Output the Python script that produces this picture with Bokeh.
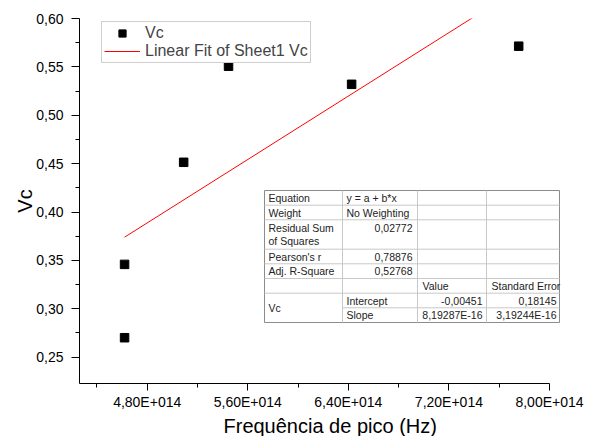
from bokeh.plotting import figure
from bokeh.models import (Range1d, FixedTicker, CustomJSTickFormatter, Legend,
                          LegendItem, Title)
from bokeh.embed import file_html
from bokeh.resources import INLINE
from bokeh.core.properties import value

# ---------------- data ----------------
freq = [4.62e14, 4.62e14, 5.09e14, 5.447e14, 6.426e14, 7.755e14]
vc = [0.3459, 0.2701, 0.4514, 0.5507, 0.5320, 0.5714]
fit_intercept = -0.00451
fit_slope = 8.19287e-16

x_ticks = [4.0e14, 4.8e14, 5.6e14, 6.4e14, 7.2e14, 8.0e14]
x_minor = [4.4e14, 5.2e14, 6.0e14, 6.8e14, 7.6e14]
y_ticks = [0.25, 0.30, 0.35, 0.40, 0.45, 0.50, 0.55, 0.60]
y_minor = [0.275, 0.325, 0.375, 0.425, 0.475, 0.525, 0.575]

tbl_col1 = ["Equation", "Weight", "Residual Sum", "Pearson's r", "Adj. R-Square", "", "Vc"]
tbl_col2 = ["y = a + b*x", "No Weighting", "0,02772", "0,78876", "0,52768", "", "Intercept", "Slope"]
tbl_head = ["Value", "Standard Error"]
tbl_value = ["-0,00451", "8,19287E-16"]
tbl_error = ["0,18145", "3,19244E-16"]

FONT = "Liberation Sans"

# ---------------- layout (page px) ----------------
X0, XAX, Y0, Y1 = 4.2615e14, 8.0e14, 0.2228, 0.60
FL, FT, FH = 79, 18, 365
AXW = 470                      # pixel length of the drawn x axis
FW = 486                       # frame a bit wider so the table is not clipped
X1 = X0 + (XAX - X0) * FW / AXW


def px2x(px):
    return X0 + (px - FL) / FW * (X1 - X0)


def px2y(py):
    return Y1 - (py - FT) / FH * (Y1 - Y0)


p = figure(frame_width=FW, frame_height=FH,
           min_border_left=FL, min_border_top=FT,
           min_border_right=20, min_border_bottom=10,
           x_range=Range1d(X0, X1), y_range=Range1d(Y0, Y1),
           output_backend="svg", toolbar_location=None,
           background_fill_color="white", border_fill_color="white")
p.outline_line_color = None
p.xgrid.visible = False
p.ygrid.visible = False

for ax in (p.xaxis[0], p.yaxis[0]):
    ax.axis_line_color = "black"
    ax.major_tick_line_color = "black"
    ax.minor_tick_line_color = "black"
    ax.major_tick_in = 0
    ax.minor_tick_in = 0
    ax.major_label_text_font = FONT
    ax.major_label_text_font_size = "14px"
    ax.major_label_text_color = "black"
    ax.axis_label_text_font = FONT
    ax.axis_label_text_font_style = "normal"
    ax.axis_label_text_color = "black"

p.xaxis.bounds = (X0, XAX)
p.xaxis.ticker = FixedTicker(ticks=x_ticks, minor_ticks=x_minor)
p.yaxis.ticker = FixedTicker(ticks=y_ticks, minor_ticks=y_minor)
p.xaxis.major_tick_out = 7
p.xaxis.minor_tick_out = 4
p.yaxis.major_tick_out = 8
p.yaxis.minor_tick_out = 4
p.xaxis.major_label_standoff = 3
p.yaxis.major_label_standoff = 8
p.xaxis.formatter = CustomJSTickFormatter(
    code="return tick.toExponential(2).replace('.', ',').replace('e+', 'E+0');")
p.yaxis.formatter = CustomJSTickFormatter(
    code="return tick.toFixed(2).replace('.', ',');")

p.yaxis.axis_label = "Vc"
p.yaxis.axis_label_text_font_size = "20px"
p.yaxis.axis_label_standoff = -3

xt = Title(text="Frequência de pico (Hz)", align="left", offset=144,
           text_font=FONT, text_font_size="20px", text_font_style="normal",
           text_color="black", standoff=0)
p.add_layout(xt, "below")

# ---------------- data marks ----------------
sc = p.scatter(freq, vc, marker="square", size=8.5, color="black")
fx = [min(freq), max(freq)]
fy = [fit_intercept + fit_slope * v for v in fx]
ln = p.line(fx, fy, line_color="red", line_width=1)

legend = Legend(items=[LegendItem(label="Vc", renderers=[sc]),
                       LegendItem(label="Linear Fit of Sheet1 Vc", renderers=[ln])],
                location=(22, 320), label_text_font=FONT, label_text_font_size="16px",
                label_height=18, glyph_height=18, glyph_width=36, label_standoff=5,
                padding=2, spacing=0, margin=0, border_line_color="#a0a0a0",
                background_fill_alpha=1.0)
p.add_layout(legend)

# ---------------- fit-result table ----------------
cols = [264, 342, 417, 486, 559]
rows = [190, 204.7, 219.3, 248.7, 263.3, 278, 292.7, 307.3, 322]
p.quad(left=px2x(cols[0]), right=px2x(cols[-1]), top=px2y(rows[0]), bottom=px2y(rows[-1]),
       fill_color="white", line_color="#8c8c8c", line_width=1)
vx = [px2x(c) for c in cols[1:-1]]
p.segment(x0=vx, x1=vx, y0=[px2y(rows[0])] * 3, y1=[px2y(rows[-1])] * 3,
          line_color="#c8c8c8", line_width=1)
hy, hx0 = [], []
for i, r in enumerate(rows[1:-1]):
    hy.append(px2y(r))
    hx0.append(px2x(cols[1]) if i == 6 else px2x(cols[0]))
p.segment(x0=hx0, x1=[px2x(cols[-1])] * len(hy), y0=hy, y1=hy,
          line_color="#c8c8c8", line_width=1)

tsize = "10.5px"
tcol = "#222222"


def tx(xs, ys, texts, align):
    p.text(x=xs, y=ys, text=texts, text_font=value(FONT), text_font_size=tsize,
           text_color=tcol, text_align=align, text_baseline="middle")


def mid(i):
    return px2y((rows[i] + rows[i + 1]) / 2)


c1x, c1y, c1t = [], [], []
for i, t in enumerate(tbl_col1):
    if t == "":
        continue
    if i == 2:
        yy = px2y(rows[2] + 8)
    elif i == 6:
        yy = px2y((rows[6] + rows[8]) / 2)
    else:
        yy = mid(i)
    c1x.append(px2x(cols[0] + 4)); c1y.append(yy); c1t.append(t)
c1x.append(px2x(cols[0] + 4)); c1y.append(px2y(rows[2] + 21)); c1t.append("of Squares")
tx(c1x, c1y, c1t, "left")

left_items = [(0, tbl_col2[0]), (1, tbl_col2[1]), (6, tbl_col2[6]), (7, tbl_col2[7])]
tx([px2x(cols[1] + 4)] * 4, [mid(i) for i, _ in left_items], [t for _, t in left_items], "left")
right_items = [tbl_col2[2], tbl_col2[3], tbl_col2[4]]
ry = [px2y(rows[2] + 8), mid(3), mid(4)]
tx([px2x(cols[2] - 5)] * 3, ry, right_items, "right")

tx([px2x(cols[2] + 5), px2x(cols[3] + 5)], [mid(5)] * 2, tbl_head, "left")
tx([px2x(cols[3] - 4)] * 2, [mid(6), mid(7)], tbl_value, "right")
tx([px2x(cols[4] - 3)] * 2, [mid(6), mid(7)], tbl_error, "right")

open("out.html", "w").write(file_html(p, INLINE))
